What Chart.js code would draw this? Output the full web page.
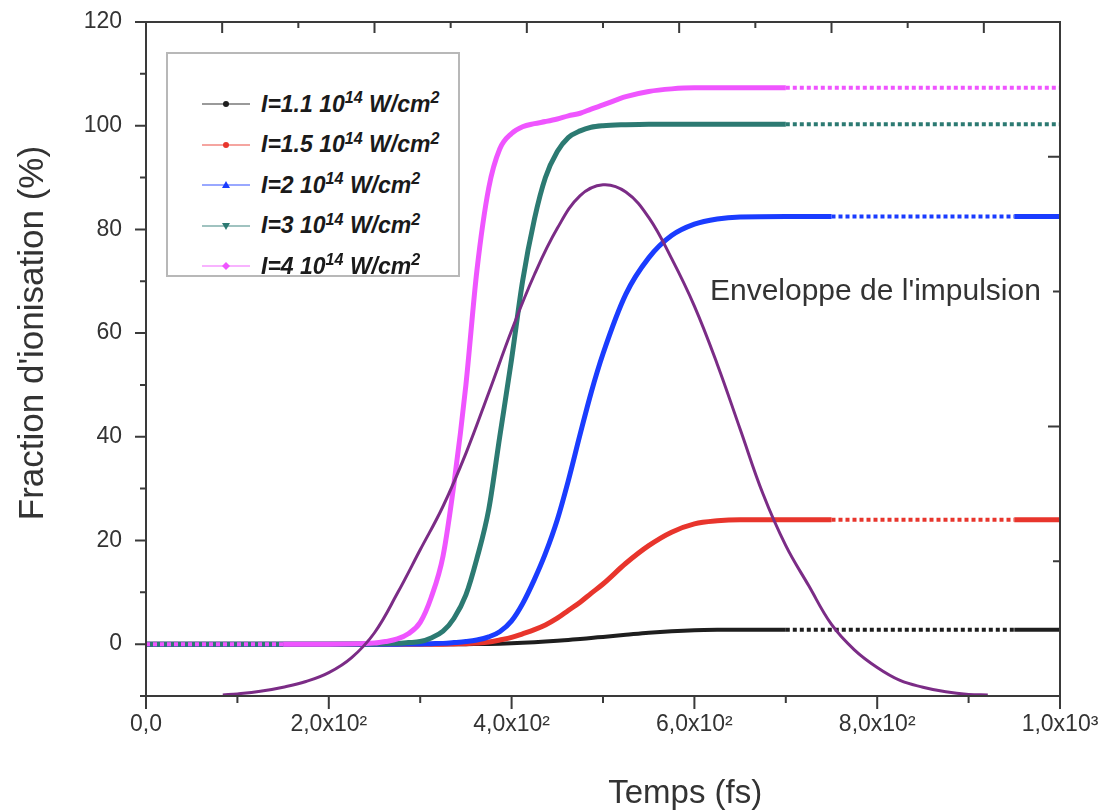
<!DOCTYPE html>
<html>
<head>
<meta charset="utf-8">
<title>Fraction d'ionisation</title>
<script src="https://cdn.jsdelivr.net/npm/chart.js@4.4.1/dist/chart.umd.min.js"></script>
<style>
body { margin: 0; background: #fff; }
#wrap { position: relative; width: 1109px; height: 812px; }
#legende {
    position: absolute; left: 166px; top: 52px; width: 290px; height: 221px;
    border: 2px solid #b8b8b8; background: #fff;
    font: italic bold 23px "Liberation Sans", Arial, sans-serif; color: #1a1a1a;
}
.item { position: absolute; left: 34px; height: 30px; display: flex; align-items: center; white-space: nowrap; }
.item svg { margin-right: 11px; }
.item sup { font-size: 0.7em; position: relative; top: -0.5em; vertical-align: baseline; line-height: 0; }
</style>
</head>
<body>
<div id="wrap">
    <canvas id="graphe" width="1109" height="812"></canvas>
    <div id="legende"></div>
</div>
<script>
// Temps (fs) commun aux cinq courbes d'ionisation
const temps = [0, 100, 150, 200, 250, 262, 275, 287, 300, 312, 325, 337, 350, 362, 375, 387, 400, 412, 425, 437, 450, 462, 475, 487, 500, 525, 550, 575, 600, 625, 650, 700, 750, 800, 900, 950, 1000];

// Fraction d'ionisation (%)
const ion11 = [0, 0, 0, 0, 0, 0, 0, 0, 0, 0, 0, 0, 0, 0.02, 0.05, 0.1, 0.18, 0.27, 0.38, 0.5, 0.65, 0.82, 1.0, 1.2, 1.4, 1.8, 2.2, 2.5, 2.7, 2.78, 2.8, 2.8, 2.8, 2.8, 2.8, 2.8, 2.8];
const ion15 = [0, 0, 0, 0, 0, 0, 0, 0, 0, 0, 0, 0.05, 0.1, 0.2, 0.4, 0.8, 1.3, 2.0, 2.8, 3.7, 5.0, 6.5, 8.1, 9.8, 11.6, 15.6, 19, 21.6, 23.2, 23.8, 24, 24, 24, 24, 24, 24, 24];
const ion2 = [0, 0, 0, 0, 0, 0, 0, 0.02, 0.05, 0.1, 0.15, 0.3, 0.5, 0.8, 1.4, 2.4, 4.5, 7.8, 12.5, 17.5, 24, 31.5, 40.5, 48.5, 56, 67.5, 74.5, 78.8, 81, 82, 82.4, 82.5, 82.5, 82.5, 82.5, 82.5, 82.5];
const ion3 = [0, 0, 0, 0, 0.05, 0.1, 0.15, 0.3, 0.5, 1.2, 2.5, 5, 9.5, 16.5, 26, 40, 55, 70, 82, 90, 95, 97.7, 99, 99.7, 100, 100.2, 100.3, 100.3, 100.3, 100.3, 100.3, 100.3, 100.3, 100.3, 100.3, 100.3, 100.3];
const ion4 = [0, 0, 0, 0, 0.2, 0.5, 1.0, 2.0, 4.2, 9, 17, 31, 50, 72, 88, 95.5, 98.5, 99.8, 100.4, 100.8, 101.3, 101.9, 102.4, 103.2, 104, 105.6, 106.6, 107.1, 107.3, 107.3, 107.3, 107.3, 107.3, 107.3, 107.3, 107.3, 107.3];

// Enveloppe de l'impulsion (en unites de l'axe de gauche)
const tempsEnv = [84, 100, 125, 150, 175, 200, 225, 250, 275, 300, 325, 350, 375, 400, 425, 450, 475, 500, 525, 550, 575, 600, 625, 650, 675, 700, 725, 750, 775, 800, 825, 850, 875, 900, 921];
const enveloppe = [-9.8, -9.6, -9.1, -8.3, -7.2, -5.5, -2.6, 2.2, 9.8, 18.2, 26.6, 36.8, 48.5, 60.5, 71.3, 80.2, 86.5, 88.6, 87.2, 82.3, 74.4, 65.2, 54, 41.5, 29, 19, 11.3, 3.8, -1.1, -4.5, -7, -8.3, -9.2, -9.7, -9.8];

const intensites = ['1.1', '1.5', '2', '3', '4'];
const couleurs = ['#1e1e1e', '#e8352c', '#1a3cff', '#2c7a72', '#ef55ff'];
const couleurEnv = '#7b2c86';
const etiquettesX = ['0,0', '2,0x10\u00b2', '4,0x10\u00b2', '6,0x10\u00b2', '8,0x10\u00b2', '1,0x10\u00b3'];
const etiquettesY = ['0', '20', '40', '60', '80', '100', '120'];

const series = [ion11, ion15, ion2, ion3, ion4];
// intervalles de temps où la courbe apparait en pointillés (points espacés)
const pointilles = [[[700, 950]], [[750, 950]], [[750, 950]], [[700, 1000]], [[0, 150], [700, 1000]]];

const police = '"Liberation Sans", Arial, sans-serif';

// Cadre, graduations, titres des axes, texte de l'enveloppe
const cadre = {
    id: 'cadre',
    afterDatasetsDraw(chart) {
        const { ctx, chartArea: a, scales: { x, y } } = chart;
        ctx.save();
        ctx.strokeStyle = '#3a3a3a';
        ctx.lineWidth = 2;
        ctx.strokeRect(a.left, a.top, a.right - a.left, a.bottom - a.top);
        ctx.beginPath();
        for (let v = -10; v <= 120; v += 10) {
            const py = y.getPixelForValue(v);
            const len = v % 20 === 0 ? 11 : 6;
            ctx.moveTo(a.left - len, py);
            ctx.lineTo(a.left, py);
        }
        for (let t = 0; t <= 1000; t += 100) {
            const px = x.getPixelForValue(t);
            const len = t % 200 === 0 ? 13 : 7;
            ctx.moveTo(px, a.bottom);
            ctx.lineTo(px, a.bottom + len);
        }
        for (let k = 1; k < 12; k++) {
            const px = a.left + (a.right - a.left) * k / 12;
            const len = k % 2 ? 11 : 6;
            ctx.moveTo(px, a.top);
            ctx.lineTo(px, a.top + len);
        }
        for (let k = 1; k < 5; k++) {
            const py = a.top + (a.bottom - a.top) * k / 5;
            const len = k % 2 ? 12 : 7;
            ctx.moveTo(a.right, py);
            ctx.lineTo(a.right - len, py);
        }
        ctx.stroke();

        ctx.fillStyle = '#333';
        ctx.textBaseline = 'middle';
        ctx.font = '30px ' + police;
        ctx.fillText("Enveloppe de l'impulsion", x.getPixelForValue(617), y.getPixelForValue(68));

        ctx.font = '33px ' + police;
        ctx.textAlign = 'center';
        ctx.fillText('Temps (fs)', x.getPixelForValue(590), 794);
        ctx.font = '35px ' + police;
        ctx.translate(33, y.getPixelForValue(60));
        ctx.rotate(-Math.PI / 2);
        ctx.fillText("Fraction d'ionisation (%)", 0, 0);
        ctx.restore();
    }
};

const enPointilles = (i, t0) => pointilles[i].some(([d, f]) => t0 >= d && t0 < f);

const datasets = series.map((vals, i) => ({
    label: 'I=' + intensites[i],
    data: temps.map((t, j) => ({ x: t, y: vals[j] })),
    borderColor: couleurs[i],
    borderWidth: i === 0 ? 4 : 5,
    pointRadius: 0,
    cubicInterpolationMode: 'monotone',
    order: 5 - i,
    segment: {
        borderDash: (c) => enPointilles(i, c.p0.parsed.x) ? [4, 3] : undefined,
        borderWidth: (c) => enPointilles(i, c.p0.parsed.x) ? 4 : undefined
    }
}));
datasets.push({
    label: 'Enveloppe',
    data: tempsEnv.map((t, j) => ({ x: t, y: enveloppe[j] })),
    borderColor: couleurEnv,
    borderWidth: 3,
    pointRadius: 0,
    tension: 0.4,
    order: 0
});

// annule les marges automatiques des axes pour fixer la zone de tracé
const sansMarge = (s) => { s.paddingTop = 0; s.paddingBottom = 0; s.paddingLeft = 0; s.paddingRight = 0; };

new Chart(document.getElementById('graphe'), {
    type: 'line',
    data: { datasets },
    options: {
        responsive: false,
        animation: false,
        devicePixelRatio: 1,
        layout: { padding: { top: 22, right: 49, left: 0, bottom: 0 } },
        plugins: { legend: { display: false }, tooltip: { enabled: false } },
        scales: {
            x: {
                type: 'linear', min: 0, max: 1000,
                afterFit: (s) => { s.height = 116; sansMarge(s); },
                grid: { display: false, drawTicks: false },
                border: { display: false },
                ticks: {
                    stepSize: 200, maxRotation: 0, autoSkip: false, padding: 15,
                    color: '#333', font: { family: police, size: 23 },
                    callback: (v) => etiquettesX[v / 200]
                }
            },
            y: {
                min: -10, max: 120,
                afterFit: (s) => { s.width = 146; sansMarge(s); },
                grid: { display: false, drawTicks: false },
                border: { display: false },
                ticks: {
                    stepSize: 20, padding: 24, autoSkip: false,
                    color: '#333', font: { family: police, size: 23 },
                    callback: (v) => etiquettesY[v / 20] || ''
                }
            }
        }
    },
    plugins: [cadre]
});

// Légende avec exposants
const formes = ['cercle', 'cercle', 'triangle', 'triangleBas', 'losange'];
const legende = document.getElementById('legende');
intensites.forEach((val, i) => {
    const row = document.createElement('div');
    row.className = 'item';
    row.style.top = (35 + i * 40.5) + 'px';
    let marque;
    if (formes[i] === 'cercle') marque = `<circle cx="24" cy="15" r="3" fill="${couleurs[i]}"/>`;
    else if (formes[i] === 'triangle') marque = `<polygon points="24,11 28,18 20,18" fill="${couleurs[i]}"/>`;
    else if (formes[i] === 'triangleBas') marque = `<polygon points="24,19 28,12 20,12" fill="${couleurs[i]}"/>`;
    else marque = `<polygon points="24,11 28,15 24,19 20,15" fill="${couleurs[i]}"/>`;
    row.innerHTML = `<svg width="48" height="30"><line x1="0" y1="15" x2="48" y2="15" stroke="${couleurs[i]}" stroke-opacity="0.6" stroke-width="1.5"/>${marque}</svg>` +
        `<span>I=${val} 10<sup>14</sup> W/cm<sup>2</sup></span>`;
    legende.appendChild(row);
});
</script>
</body>
</html>
